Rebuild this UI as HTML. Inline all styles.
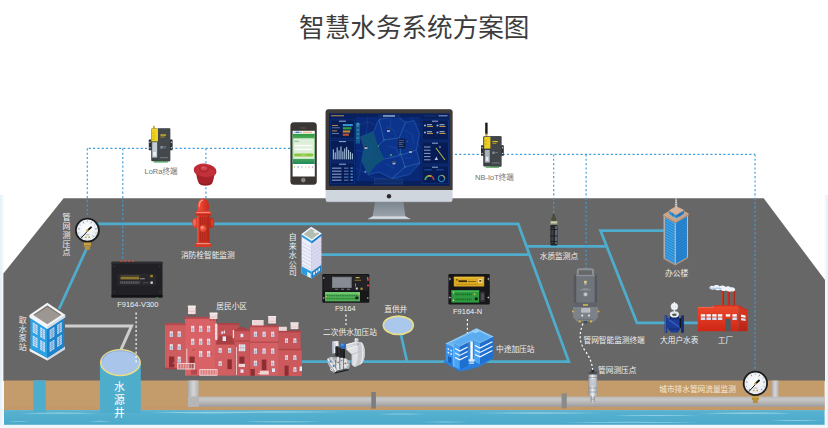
<!DOCTYPE html>
<html lang="zh"><head><meta charset="utf-8"><title>智慧水务系统方案图</title>
<style>html,body{margin:0;padding:0;background:#fff;font-family:"Liberation Sans",sans-serif}svg{display:block}</style></head>
<body>
<svg role="img" width="828" height="428" viewBox="0 0 828 428">
<defs>
<linearGradient id="gpipe" x1="0" y1="0" x2="0" y2="1"><stop offset="0" stop-color="#b9b9b9"/><stop offset=".3" stop-color="#c7c7c7"/><stop offset="1" stop-color="#9c9c9c"/></linearGradient>
<linearGradient id="gpipev" x1="0" y1="0" x2="1" y2="0"><stop offset="0" stop-color="#a9a9a9"/><stop offset=".5" stop-color="#d6d6d6"/><stop offset="1" stop-color="#b3b3b3"/></linearGradient>
<linearGradient id="gred" x1="0" y1="0" x2="0" y2="1"><stop offset="0" stop-color="#ee4a2c"/><stop offset="1" stop-color="#cf2616"/></linearGradient>
<linearGradient id="gredd" x1="0" y1="0" x2="0" y2="1"><stop offset="0" stop-color="#de3c25"/><stop offset="1" stop-color="#b92215"/></linearGradient>
<linearGradient id="ghyd" x1="0" y1="0" x2="1" y2="0"><stop offset="0" stop-color="#f0553f"/><stop offset=".5" stop-color="#e23a28"/><stop offset="1" stop-color="#c42a1c"/></linearGradient>
<linearGradient id="gsil" x1="0" y1="0" x2="1" y2="0"><stop offset="0" stop-color="#8a8f96"/><stop offset=".45" stop-color="#eef0f2"/><stop offset="1" stop-color="#9a9fa6"/></linearGradient>
<linearGradient id="gstand" x1="0" y1="0" x2="0" y2="1"><stop offset="0" stop-color="#7b858e"/><stop offset="1" stop-color="#9aa3ab"/></linearGradient>
<linearGradient id="gphone" x1="0" y1="0" x2="0" y2="1"><stop offset="0" stop-color="#2f9a40"/><stop offset=".3" stop-color="#6fbf6c"/><stop offset=".8" stop-color="#4aa85a"/><stop offset="1" stop-color="#1f8a5c"/></linearGradient>
<radialGradient id="gface" cx=".45" cy=".4" r=".6"><stop offset="0" stop-color="#ffffff"/><stop offset="1" stop-color="#e4eaf2"/></radialGradient>
<linearGradient id="gwater" x1="0" y1="0" x2="0" y2="1"><stop offset="0" stop-color="#58b2d0"/><stop offset="1" stop-color="#4aa9ca"/></linearGradient>
<linearGradient id="gstripl" x1="0" y1="0" x2="1" y2="0"><stop offset="0" stop-color="#e4eff8"/><stop offset="1" stop-color="#fdfeff"/></linearGradient>
<linearGradient id="gstripr" x1="0" y1="0" x2="1" y2="0"><stop offset="0" stop-color="#fdfeff"/><stop offset="1" stop-color="#e4eff8"/></linearGradient>
</defs>
<rect width="828" height="428" fill="#ffffff"/>
<rect x="0" y="195" width="4.5" height="233" fill="url(#gstripl)"/>
<rect x="824" y="195" width="4" height="233" fill="url(#gstripr)"/>
<rect x="0" y="424.4" width="828" height="3.6" fill="#eff6fb"/>
<polygon points="63.6,198.2 763.7,198.2 825,280 825,381 3.4,381 3.4,273.6" fill="#676767"/>
<rect x="4" y="380.5" width="820.6" height="29.8" fill="#c49b6b"/>
<rect x="4" y="406.8" width="820.6" height="3.4" fill="#c5986a"/>
<rect x="4" y="410.1" width="820.6" height="14.7" fill="url(#gwater)"/>
<path d="M20 413.2Q59 412 98 413.2Q59 414.4 20 413.2ZM150 412.6Q206 411 262 412.6Q206 414.20000000000005 150 412.6ZM200 412Q272.5 410.7 345 412Q272.5 413.3 200 412ZM378 414Q401.5 413 425 414Q401.5 415 378 414ZM470 413Q536 411.6 602 413Q536 414.4 470 413ZM612 415.6Q656 414.6 700 415.6Q656 416.6 612 415.6ZM700 413.2Q746 411.8 792 413.2Q746 414.59999999999997 700 413.2ZM8 421.4Q19 420.5 30 421.4Q19 422.29999999999995 8 421.4ZM88 421.2Q100 420.3 112 421.2Q100 422.09999999999997 88 421.2ZM245 421.8Q283.5 420.7 322 421.8Q283.5 422.90000000000003 245 421.8ZM420 422Q445 421.1 470 422Q445 422.9 420 422ZM560 422.2Q630 421.09999999999997 700 422.2Q630 423.3 560 422.2ZM770 420.6Q796 419.6 822 420.6Q796 421.6 770 420.6Z" fill="#a9dceb" opacity=".7"/>
<rect x="33.2" y="380.3" width="12.6" height="32" fill="#4fadcc"/>
<rect x="99.9" y="362.6" width="40.9" height="50.4" fill="#4fadcc"/>
<rect x="188" y="380.5" width="10.6" height="26.3" fill="url(#gpipev)"/>
<rect x="192" y="396.6" width="632.6" height="10.2" fill="url(#gpipe)"/>
<path d="M188 396.6V406.8H199V396.6Z" fill="#b6b6b6"/>
<rect x="771.5" y="380.6" width="7" height="16.4" fill="url(#gpipev)"/>
<rect x="371.3" y="392" width="4.6" height="16.6" fill="#7d7d7d"/>
<rect x="561.6" y="393.4" width="5.2" height="15" fill="#8a8a8a"/>
<polyline points="65,326 131.5,326 121,349.5" fill="none" stroke="#cdcdcd" stroke-width="3" stroke-linejoin="miter"/>
<g fill="none" stroke="#4eadcd" stroke-width="2.75" stroke-linejoin="miter">
<polyline points="98,223.85 518.2,223.85 568.8,361.5 301,361.5"/>
<path d="M87.3 247L59 309"/>
<path d="M320 254.6H530"/>
<path d="M527.5 246.3H606.8"/>
<polyline points="666,230.6 600.5,230.6 637,322.9 700,322.9"/>
<path d="M400.8 334L407 361.5"/>
</g>
<ellipse cx="120.4" cy="362.6" rx="19.7" ry="12.8" fill="#a9c5ea" stroke="#ebdd86" stroke-width="1.5"/><path d="M102.4 360.6C104.5 347.5 136.5 347.5 138.4 360.6" fill="none" stroke="#8fadde" stroke-width="1.1"/>
<ellipse cx="398.3" cy="325.3" rx="15" ry="9.2" fill="#aac8ec" stroke="#ebdd86" stroke-width="1.6"/>
<g fill="none" stroke="#3f9ddb" stroke-width="1.15" stroke-dasharray="2.1 2.23">
<path d="M290 148.3H87.3"/>
<path d="M87.3 148.3V219"/>
<path d="M122.8 148.3V260"/>
<path d="M205.9 148.3V199"/>
<path d="M450.62 154.4H755"/>
<path d="M553.7 154.4V215"/>
<path d="M586.1 154.4V269"/>
<path d="M755.05 154.4V372"/>
</g>
<g fill="none" stroke="#ffffff" stroke-width="1.2" stroke-dasharray="2.1 2.23">
<path d="M136.1 312.6V362.5"/>
<path d="M346 314.6V325"/>
<path d="M467.4 319V336"/>
<path d="M583 323.5C578 336 580 344 586 352C590 358 592.5 364 592.8 372"/>
</g>
<polygon points="29.6,348.2 47.3,358 65,346.4 65,349.2 47.3,360.6 29.6,351.2" fill="#eef1f5"/><polygon points="47.3,358 65,346.4 65,349.2 47.3,360.6" fill="#cfd5dd"/><polygon points="30.4,315.4 47.3,326.6 47.3,358 30.4,348.8" fill="#2aa3e6"/><polygon points="47.3,326.6 64.2,315.2 64.2,347 47.3,358" fill="#1b82cc"/><polygon points="32.77,322.27 37.5,325.31 37.5,335.08 32.77,332.2" fill="#d6e6f8"/><path d="M32.77 324.25L37.5 327.27" stroke="#4f9ad6" stroke-width=".5"/><path d="M32.77 326.24L37.5 329.22" stroke="#4f9ad6" stroke-width=".5"/><path d="M32.77 328.23L37.5 331.17" stroke="#4f9ad6" stroke-width=".5"/><path d="M32.77 330.22L37.5 333.13" stroke="#4f9ad6" stroke-width=".5"/><path d="M35.13 323.79L35.13 333.64" stroke="#4f9ad6" stroke-width=".5"/><polygon points="32.77,335.52 37.5,338.34 37.5,348.11 32.77,345.45" fill="#d6e6f8"/><path d="M32.77 337.5L37.5 340.29" stroke="#4f9ad6" stroke-width=".5"/><path d="M32.77 339.49L37.5 342.24" stroke="#4f9ad6" stroke-width=".5"/><path d="M32.77 341.48L37.5 344.2" stroke="#4f9ad6" stroke-width=".5"/><path d="M32.77 343.46L37.5 346.15" stroke="#4f9ad6" stroke-width=".5"/><path d="M35.13 336.93L35.13 346.78" stroke="#4f9ad6" stroke-width=".5"/><polygon points="40.2,327.05 44.93,330.1 44.93,339.6 40.2,336.73" fill="#d6e6f8"/><path d="M40.2 328.99L44.93 332" stroke="#4f9ad6" stroke-width=".5"/><path d="M40.2 330.92L44.93 333.9" stroke="#4f9ad6" stroke-width=".5"/><path d="M40.2 332.86L44.93 335.8" stroke="#4f9ad6" stroke-width=".5"/><path d="M40.2 334.79L44.93 337.7" stroke="#4f9ad6" stroke-width=".5"/><path d="M42.57 328.58L42.57 338.17" stroke="#4f9ad6" stroke-width=".5"/><polygon points="40.2,339.95 44.93,342.77 44.93,352.28 40.2,349.62" fill="#d6e6f8"/><path d="M40.2 341.88L44.93 344.67" stroke="#4f9ad6" stroke-width=".5"/><path d="M40.2 343.82L44.93 346.57" stroke="#4f9ad6" stroke-width=".5"/><path d="M40.2 345.75L44.93 348.48" stroke="#4f9ad6" stroke-width=".5"/><path d="M40.2 347.69L44.93 350.38" stroke="#4f9ad6" stroke-width=".5"/><path d="M42.57 341.36L42.57 350.95" stroke="#4f9ad6" stroke-width=".5"/><polygon points="49.67,330.04 54.4,326.86 54.4,336.33 49.67,339.47" fill="#c3d8f0"/><path d="M49.67 331.92L54.4 328.76" stroke="#3b86c6" stroke-width=".5"/><path d="M49.67 333.81L54.4 330.65" stroke="#3b86c6" stroke-width=".5"/><path d="M49.67 335.7L54.4 332.55" stroke="#3b86c6" stroke-width=".5"/><path d="M49.67 337.59L54.4 334.44" stroke="#3b86c6" stroke-width=".5"/><path d="M52.03 328.45L52.03 337.9" stroke="#3b86c6" stroke-width=".5"/><polygon points="49.67,342.62 54.4,339.49 54.4,348.96 49.67,352.06" fill="#c3d8f0"/><path d="M49.67 344.51L54.4 341.38" stroke="#3b86c6" stroke-width=".5"/><path d="M49.67 346.39L54.4 343.28" stroke="#3b86c6" stroke-width=".5"/><path d="M49.67 348.28L54.4 345.17" stroke="#3b86c6" stroke-width=".5"/><path d="M49.67 350.17L54.4 347.07" stroke="#3b86c6" stroke-width=".5"/><path d="M52.03 341.05L52.03 350.51" stroke="#3b86c6" stroke-width=".5"/><polygon points="57.1,325.05 61.83,321.88 61.83,331.4 57.1,334.54" fill="#c3d8f0"/><path d="M57.1 326.95L61.83 323.78" stroke="#3b86c6" stroke-width=".5"/><path d="M57.1 328.84L61.83 325.68" stroke="#3b86c6" stroke-width=".5"/><path d="M57.1 330.74L61.83 327.59" stroke="#3b86c6" stroke-width=".5"/><path d="M57.1 332.64L61.83 329.49" stroke="#3b86c6" stroke-width=".5"/><path d="M59.47 323.46L59.47 332.97" stroke="#3b86c6" stroke-width=".5"/><polygon points="57.1,337.7 61.83,334.57 61.83,344.1 57.1,347.19" fill="#c3d8f0"/><path d="M57.1 339.6L61.83 336.48" stroke="#3b86c6" stroke-width=".5"/><path d="M57.1 341.5L61.83 338.38" stroke="#3b86c6" stroke-width=".5"/><path d="M57.1 343.4L61.83 340.29" stroke="#3b86c6" stroke-width=".5"/><path d="M57.1 345.29L61.83 342.19" stroke="#3b86c6" stroke-width=".5"/><path d="M59.47 336.14L59.47 345.64" stroke="#3b86c6" stroke-width=".5"/><polygon points="29.4,315 47.3,302.8 65.2,314.8 65.2,317.2 47.3,329 29.4,317.4" fill="#f3f5f8"/><polygon points="47.3,326.6 65.2,314.8 65.2,317.2 47.3,329" fill="#d5dbe2"/><polygon points="33.2,315 47.3,305.4 61.4,314.9 47.3,324.2" fill="#9c9792"/><polygon points="33.2,315 47.3,305.4 61.4,314.9 59.8,314.9 47.3,306.9 35,315" fill="#7d7873"/>
<polygon points="301.6,234.4 311.8,241 311.8,278.6 301.6,273.2" fill="#eeeefb"/><polygon points="311.8,241 321.4,233.6 321.4,271.6 311.8,278.6" fill="#d9daf0"/><path d="M301.6 241.97L311.8 248.33L321.4 241.01" fill="none" stroke="#c2c4e2" stroke-width=".6"/><path d="M301.6 245.65L311.8 251.9L321.4 244.62" fill="none" stroke="#c2c4e2" stroke-width=".6"/><path d="M301.6 249.34L311.8 255.48L321.4 248.23" fill="none" stroke="#c2c4e2" stroke-width=".6"/><path d="M301.6 253.02L311.8 259.05L321.4 251.84" fill="none" stroke="#c2c4e2" stroke-width=".6"/><path d="M301.6 256.71L311.8 262.62L321.4 255.45" fill="none" stroke="#c2c4e2" stroke-width=".6"/><path d="M301.6 260.4L311.8 266.19L321.4 259.06" fill="none" stroke="#c2c4e2" stroke-width=".6"/><path d="M301.6 264.08L311.8 269.76L321.4 262.67" fill="none" stroke="#c2c4e2" stroke-width=".6"/><polygon points="301.6,266.22 311.8,271.83 311.8,278.6 301.6,273.2" fill="#2a9be0"/><polygon points="311.8,271.83 321.4,264.76 321.4,271.6 311.8,278.6" fill="#1a7cc6"/><polygon points="307.21,271.71 310.78,273.65 310.78,278.06 307.21,276.17" fill="#e6f0fa"/><polygon points="313.24,272.8 314.97,271.54 314.97,274.25 313.24,275.52" fill="#e6f0fa"/><polygon points="315.83,270.9 317.56,269.63 317.56,272.36 315.83,273.62" fill="#e6f0fa"/><polygon points="318.33,269.07 320.06,267.8 320.06,270.53 318.33,271.79" fill="#e6f0fa"/><polygon points="301.2,234.2 311.2,226.8 321.8,233.4 321.8,235.6 311.8,243.2 301.2,236.6" fill="#2a9be0"/><polygon points="311.8,241 321.8,233.4 321.8,235.6 311.8,243.2" fill="#1a7cc6"/><polygon points="301.2,234.2 311.2,226.8 321.8,233.4 311.8,241" fill="#f4f6f8"/><polygon points="303.6,234.2 311.2,228.6 319.4,233.5 311.8,239.2" fill="#b4beb0"/><polygon points="315,230.6 317.6,232.2 315.8,233.6 313.2,232" fill="#e8ecf0"/>
<rect x="278.2" y="331" width="22.4" height="45" fill="#c65458"/><rect x="278.2" y="349.6" width="23.6" height="26.4" fill="#cc595c"/><rect x="277.8" y="330.6" width="23.2" height="1.8" fill="#ae4448"/><rect x="278.2" y="348.8" width="24" height="1.5" fill="#ae4448"/><rect x="285.2" y="338.4" width="2.8" height="4.6" fill="#eef3fa"/><rect x="285.2" y="340.7" width="2.8" height="2.3" fill="#bcd2ef"/><path d="M286.6 338.4v4.6M285.2 340.5h2.8" stroke="#b56a72" stroke-width=".35"/><rect x="293.5" y="338.4" width="2.8" height="4.6" fill="#eef3fa"/><rect x="293.5" y="340.7" width="2.8" height="2.3" fill="#bcd2ef"/><path d="M294.9 338.4v4.6M293.5 340.5h2.8" stroke="#b56a72" stroke-width=".35"/><rect x="285.2" y="355.3" width="2.8" height="4.6" fill="#eef3fa"/><rect x="285.2" y="357.6" width="2.8" height="2.3" fill="#bcd2ef"/><path d="M286.6 355.3v4.6M285.2 357.4h2.8" stroke="#b56a72" stroke-width=".35"/><rect x="293.5" y="355.3" width="2.8" height="4.6" fill="#eef3fa"/><rect x="293.5" y="357.6" width="2.8" height="2.3" fill="#bcd2ef"/><path d="M294.9 355.3v4.6M293.5 357.4h2.8" stroke="#b56a72" stroke-width=".35"/><rect x="293.5" y="367.2" width="2.8" height="4.6" fill="#eef3fa"/><rect x="293.5" y="369.5" width="2.8" height="2.3" fill="#bcd2ef"/><path d="M294.9 367.2v4.6M293.5 369.3h2.8" stroke="#b56a72" stroke-width=".35"/><rect x="284.6" y="365.6" width="4" height="10.2" fill="#8c2f33"/><rect x="278.6" y="326.8" width="8.2" height="4" fill="#f1dede"/><path d="M280.6 326.8v4M282.6 326.8v4M284.6 326.8v4" stroke="#d9b7b7" stroke-width=".4"/><rect x="290.6" y="323.4" width="7.8" height="5.8" fill="#f1dede"/><rect x="290.3" y="322.2" width="8.4" height="1.6" rx=".6" fill="#f7ecec"/><rect x="290.6" y="326.7" width="7.8" height=".6" fill="#d9b7b7"/><path d="M291.4 329.2v2M297.6 329.2v2M294.5 329.2v2" stroke="#8a3a3a" stroke-width=".7"/><rect x="299.6" y="366.5" width="2.4" height="4.6" fill="#dfe9f7"/><rect x="249.8" y="325.6" width="28.6" height="50.2" fill="#d26064"/><rect x="249.4" y="325.2" width="29.4" height="2" fill="#b4494d"/><rect x="249.8" y="341.6" width="28.6" height="1.2" fill="#b4494d"/><rect x="253.9" y="331.7" width="3" height="5" fill="#eef3fa"/><rect x="253.9" y="334.2" width="3" height="2.5" fill="#bcd2ef"/><path d="M255.4 331.7v5M253.9 334h3" stroke="#b56a72" stroke-width=".35"/><rect x="262.6" y="331.7" width="3" height="5" fill="#eef3fa"/><rect x="262.6" y="334.2" width="3" height="2.5" fill="#bcd2ef"/><path d="M264.1 331.7v5M262.6 334h3" stroke="#b56a72" stroke-width=".35"/><rect x="271.2" y="331.7" width="3" height="5" fill="#eef3fa"/><rect x="271.2" y="334.2" width="3" height="2.5" fill="#bcd2ef"/><path d="M272.7 331.7v5M271.2 334h3" stroke="#b56a72" stroke-width=".35"/><rect x="253.9" y="348.5" width="3" height="5" fill="#eef3fa"/><rect x="253.9" y="351" width="3" height="2.5" fill="#bcd2ef"/><path d="M255.4 348.5v5M253.9 350.8h3" stroke="#b56a72" stroke-width=".35"/><rect x="262.6" y="348.5" width="3" height="5" fill="#eef3fa"/><rect x="262.6" y="351" width="3" height="2.5" fill="#bcd2ef"/><path d="M264.1 348.5v5M262.6 350.8h3" stroke="#b56a72" stroke-width=".35"/><rect x="271.2" y="348.5" width="3" height="5" fill="#eef3fa"/><rect x="271.2" y="351" width="3" height="2.5" fill="#bcd2ef"/><path d="M272.7 348.5v5M271.2 350.8h3" stroke="#b56a72" stroke-width=".35"/><rect x="253.9" y="360.7" width="3" height="5" fill="#eef3fa"/><rect x="253.9" y="363.2" width="3" height="2.5" fill="#bcd2ef"/><path d="M255.4 360.7v5M253.9 363h3" stroke="#b56a72" stroke-width=".35"/><rect x="271.2" y="360.7" width="3" height="5" fill="#eef3fa"/><rect x="271.2" y="363.2" width="3" height="2.5" fill="#bcd2ef"/><path d="M272.7 360.7v5M271.2 363h3" stroke="#b56a72" stroke-width=".35"/><rect x="261.8" y="359.6" width="4.6" height="10.4" fill="#8c2f33"/><rect x="252" y="320" width="11.6" height="5.4" fill="#f1dede"/><path d="M254 320v5.4M256 320v5.4M258 320v5.4M260 320v5.4M262 320v5.4" stroke="#d9b7b7" stroke-width=".4"/><rect x="268.2" y="317.2" width="7.8" height="6.4" fill="#f1dede"/><rect x="267.9" y="316" width="8.4" height="1.6" rx=".6" fill="#f7ecec"/><rect x="268.2" y="320.8" width="7.8" height=".6" fill="#d9b7b7"/><path d="M269 323.6v2M275.2 323.6v2M272.1 323.6v2" stroke="#8a3a3a" stroke-width=".7"/><rect x="250.4" y="369" width="4.4" height="6.8" fill="#8c2f33"/><rect x="259.8" y="370.8" width="9" height="3.8" fill="#eed3d3"/><path d="M258 373.5h4" stroke="#f3dada" stroke-width=".7"/><rect x="272" y="368.4" width="3" height="3.6" fill="#dfe9f7"/><rect x="215.8" y="323.4" width="22.8" height="24" fill="#c14e52"/><rect x="215.4" y="323" width="23.6" height="1.8" fill="#a94347"/><rect x="221.4" y="331.4" width="2.4" height="3" fill="#dbe6f5"/><rect x="234.5" y="329.8" width="15" height="46" fill="#c9575b"/><polygon points="235.5,329.8 241.9,326.6 248.3,329.8" fill="#a83f43"/><rect x="234" y="329.4" width="16" height="1.8" fill="#ae4448"/><rect x="234.5" y="340.4" width="15" height="1.2" fill="#ae4448"/><rect x="240.5" y="333.8" width="2.8" height="3.4" fill="#dfe9f7"/><rect x="238.8" y="344.4" width="6.4" height="6.8" fill="#e4ecf8"/><path d="M240.9 344.4v6.8M243.1 344.4v6.8M238.8 347.8h6.4" stroke="#b56a72" stroke-width=".4"/><rect x="239.4" y="356.6" width="5" height="8.6" fill="#8c2f33"/><rect x="238.6" y="363.8" width="6.4" height="3.2" fill="#eed3d3"/><rect x="236" y="347" width=".8" height="28" fill="#f1dede"/><rect x="240.5" y="369.4" width="3" height="3.4" fill="#dfe9f7"/><rect x="215.8" y="343.6" width="19" height="32" fill="#d15f62"/><polygon points="215.6,344.6 219.4,335.6 231,335.6 235,344.6" fill="#a83f43"/><polygon points="221.6,335.8 224.4,330.2 227.2,335.8" fill="#b8484c"/><polygon points="223.4,333.4 224.4,329.4 225.4,333.4" fill="#f1dede"/><rect x="222.6" y="336.4" width="3.4" height="4.6" fill="#dfe9f7"/><rect x="232.8" y="330" width="1.3" height="8" fill="#f1dede"/><rect x="218.7" y="348.1" width="3" height="4.6" fill="#eef3fa"/><rect x="218.7" y="350.4" width="3" height="2.3" fill="#bcd2ef"/><path d="M220.2 348.1v4.6M218.7 350.2h3" stroke="#b56a72" stroke-width=".35"/><rect x="228.1" y="348.1" width="3" height="4.6" fill="#eef3fa"/><rect x="228.1" y="350.4" width="3" height="2.3" fill="#bcd2ef"/><path d="M229.6 348.1v4.6M228.1 350.2h3" stroke="#b56a72" stroke-width=".35"/><rect x="218.7" y="361.3" width="3" height="4.6" fill="#eef3fa"/><rect x="218.7" y="363.6" width="3" height="2.3" fill="#bcd2ef"/><path d="M220.2 361.3v4.6M218.7 363.4h3" stroke="#b56a72" stroke-width=".35"/><rect x="227.4" y="359.4" width="4.4" height="9.8" fill="#8c2f33"/><rect x="185" y="317.2" width="30.8" height="58.4" fill="#d96266"/><rect x="184.4" y="316.8" width="32" height="2" fill="#b4494d"/><rect x="191.2" y="325.8" width="3" height="6" fill="#eef3fa"/><rect x="191.2" y="328.8" width="3" height="3" fill="#bcd2ef"/><path d="M192.7 325.8v6M191.2 328.6h3" stroke="#b56a72" stroke-width=".35"/><rect x="199.2" y="325.8" width="3" height="6" fill="#eef3fa"/><rect x="199.2" y="328.8" width="3" height="3" fill="#bcd2ef"/><path d="M200.7 325.8v6M199.2 328.6h3" stroke="#b56a72" stroke-width=".35"/><rect x="207.1" y="325.8" width="3" height="6" fill="#eef3fa"/><rect x="207.1" y="328.8" width="3" height="3" fill="#bcd2ef"/><path d="M208.6 325.8v6M207.1 328.6h3" stroke="#b56a72" stroke-width=".35"/><rect x="191.2" y="338.7" width="3" height="6" fill="#eef3fa"/><rect x="191.2" y="341.7" width="3" height="3" fill="#bcd2ef"/><path d="M192.7 338.7v6M191.2 341.5h3" stroke="#b56a72" stroke-width=".35"/><rect x="199.2" y="338.7" width="3" height="6" fill="#eef3fa"/><rect x="199.2" y="341.7" width="3" height="3" fill="#bcd2ef"/><path d="M200.7 338.7v6M199.2 341.5h3" stroke="#b56a72" stroke-width=".35"/><rect x="207.1" y="338.7" width="3" height="6" fill="#eef3fa"/><rect x="207.1" y="341.7" width="3" height="3" fill="#bcd2ef"/><path d="M208.6 338.7v6M207.1 341.5h3" stroke="#b56a72" stroke-width=".35"/><rect x="199.2" y="351" width="3" height="6" fill="#eef3fa"/><rect x="199.2" y="354" width="3" height="3" fill="#bcd2ef"/><path d="M200.7 351v6M199.2 353.8h3" stroke="#b56a72" stroke-width=".35"/><rect x="207.1" y="351" width="3" height="6" fill="#eef3fa"/><rect x="207.1" y="354" width="3" height="3" fill="#bcd2ef"/><path d="M208.6 351v6M207.1 353.8h3" stroke="#b56a72" stroke-width=".35"/><rect x="189.4" y="356.6" width="5.2" height="12" fill="#8c2f33"/><path d="M192 349.8h3.4" stroke="#b4494d" stroke-width=".8"/><circle cx="211.8" cy="354" r=".6" fill="#8c2f33"/><rect x="188" y="306.8" width="7.6" height="7.4" fill="#f1dede"/><rect x="187.7" y="305.6" width="8.2" height="1.6" rx=".6" fill="#f7ecec"/><rect x="188" y="310.9" width="7.6" height=".6" fill="#d9b7b7"/><path d="M188.8 314.2v2M194.8 314.2v2M191.8 314.2v2" stroke="#8a3a3a" stroke-width=".7"/><rect x="209.8" y="313.6" width="7.6" height="5.4" fill="#f1dede"/><rect x="209.5" y="312.4" width="8.2" height="1.6" rx=".6" fill="#f7ecec"/><rect x="209.8" y="316.7" width="7.6" height=".6" fill="#d9b7b7"/><path d="M210.6 319v2M216.6 319v2M213.6 319v2" stroke="#8a3a3a" stroke-width=".7"/><rect x="215" y="323.6" width="2.4" height="16.6" rx="1.1" fill="#f1dede"/><path d="M215 327.5h2.4M215 331.5h2.4M215 335.5h2.4" stroke="#d9b7b7" stroke-width=".4"/><rect x="186.4" y="348.6" width=".9" height="15" fill="#f1dede"/><rect x="191" y="369.6" width="6" height="5" fill="#b4494d"/><rect x="165" y="323.6" width="20.4" height="45.2" fill="#cf5c5f"/><rect x="164.6" y="323.2" width="21" height="1.9" fill="#b4494d"/><rect x="169.8" y="331.3" width="3" height="5.6" fill="#eef3fa"/><rect x="169.8" y="334.1" width="3" height="2.8" fill="#bcd2ef"/><path d="M171.3 331.3v5.6M169.8 333.9h3" stroke="#b56a72" stroke-width=".35"/><rect x="177.7" y="331.3" width="3" height="5.6" fill="#eef3fa"/><rect x="177.7" y="334.1" width="3" height="2.8" fill="#bcd2ef"/><path d="M179.2 331.3v5.6M177.7 333.9h3" stroke="#b56a72" stroke-width=".35"/><rect x="169.8" y="344.2" width="3" height="5.6" fill="#eef3fa"/><rect x="169.8" y="347" width="3" height="2.8" fill="#bcd2ef"/><path d="M171.3 344.2v5.6M169.8 346.8h3" stroke="#b56a72" stroke-width=".35"/><rect x="177.7" y="344.2" width="3" height="5.6" fill="#eef3fa"/><rect x="177.7" y="347" width="3" height="2.8" fill="#bcd2ef"/><path d="M179.2 344.2v5.6M177.7 346.8h3" stroke="#b56a72" stroke-width=".35"/><rect x="177.7" y="356.7" width="3" height="5.6" fill="#eef3fa"/><rect x="177.7" y="359.5" width="3" height="2.8" fill="#bcd2ef"/><path d="M179.2 356.7v5.6M177.7 359.3h3" stroke="#b56a72" stroke-width=".35"/><rect x="169" y="356.5" width="5.3" height="11" fill="#8c2f33"/><circle cx="173.4" cy="363" r=".5" fill="#e8b0a0"/><rect x="165" y="367.8" width="20.4" height="1.4" fill="#a83f43"/><rect x="177.6" y="363.4" width="17" height="5.6" fill="none" stroke="#f3dada" stroke-width=".9"/><path d="M178.8 363.4v5.6M180.4 363.4v5.6M182 363.4v5.6M183.6 363.4v5.6M185.2 363.4v5.6M186.8 363.4v5.6M188.4 363.4v5.6M190 363.4v5.6M191.6 363.4v5.6M193.2 363.4v5.6" stroke="#f3dada" stroke-width=".6"/><rect x="199.8" y="369.6" width="17.2" height="5.6" fill="none" stroke="#f3dada" stroke-width=".9"/><path d="M201 369.6v5.6M202.6 369.6v5.6M204.2 369.6v5.6M205.8 369.6v5.6M207.4 369.6v5.6M209 369.6v5.6M210.6 369.6v5.6M212.2 369.6v5.6M213.8 369.6v5.6M215.4 369.6v5.6" stroke="#f3dada" stroke-width=".6"/><rect x="188" y="368.8" width="27.8" height="7" fill="#b4494d" opacity=".0"/>
<path d="M346.2 344.3L356 341.7L361.5 342.6C364.2 344.6 365 349.5 364.8 354.5C364.5 359 363.3 362.6 360.6 364.2L354.8 366.9L351.8 364.9V354.6L346.2 349.4Z" fill="#dfe1e4"/><path d="M356 341.7L361.5 342.6C364.2 344.6 365 349.5 364.8 354.5C364.5 359 363.3 362.6 360.6 364.2L354.8 366.9C358.5 362 359.5 350 356 341.7Z" fill="#c5c8cd"/><path d="M346.2 344.3L356 341.7L357.8 346.6L347.8 349.6Z" fill="#eef0f2"/><path d="M347 346L357 343.3M347.5 347.6L357.4 345" stroke="#9aa0a7" stroke-width=".5" fill="none"/><path d="M351.8 354.6L358.6 351.8M351.8 364.9L351.8 354.6" stroke="#a9aeb5" stroke-width=".6" fill="none"/><path d="M360.6 364.2C363 360 363.6 350 361.5 342.6" stroke="#f4f5f6" stroke-width="1" fill="none"/><rect x="354.6" y="338.2" width="3.8" height="7" rx=".9" fill="#d2d5d9"/><rect x="354" y="340.4" width="5" height="1.1" fill="#9aa0a7"/><rect x="354.2" y="343.6" width="4.6" height="1" fill="#9aa0a7"/><rect x="355.3" y="338.2" width="1" height="7" fill="#f2f3f4"/><polygon points="332.4,341.6 338.4,341 338.8,352.6 332.6,353.4" fill="#eceef1"/><polygon points="332.4,341.6 333.8,341.5 334,353.2 332.6,353.4" fill="#a9bbd8"/><polygon points="334.4,343 336,342.9 336.1,349 334.5,349.2" fill="#c9d2e2"/><rect x="335.4" y="346.2" width="3.4" height="10" rx=".9" fill="#1b1c1f"/><rect x="338.6" y="347.4" width="3.4" height="10.2" rx=".9" fill="#242529"/><rect x="341.6" y="348.8" width="3.4" height="9.8" rx=".9" fill="#1b1c1f"/><path d="M336.3 347v8M339.5 348.2v8M342.5 349.6v8" stroke="#3a3c42" stroke-width=".5"/><ellipse cx="342.7" cy="345.9" rx="2.6" ry="2.9" fill="#2d6dc4"/><ellipse cx="342.3" cy="344.8" rx="1.5" ry="1.2" fill="#5b95dc"/><path d="M327.3 358.2L331.5 356.8L336 357.6L345.2 358.4L349.6 360.4L349.8 366.6L348.6 369.6L334.6 373.4L331.6 371L327.6 363.2Z" fill="#aeb3b9"/><path d="M327.8 359L336.5 371.6" stroke="#e9ebed" stroke-width="1.6"/><path d="M330.6 357.6L339.5 370.2" stroke="#dfe2e5" stroke-width="1.2"/><path d="M332 364L347 361.5M333 367.5L348.5 364.6" stroke="#e3e5e8" stroke-width="1.1"/><rect x="337" y="357.2" width="2.2" height="12.4" fill="#e6e8ea"/><rect x="340.6" y="357.8" width="2.4" height="12.2" fill="#d3d6da"/><rect x="344.4" y="358.6" width="2.2" height="10" fill="#e6e8ea"/><path d="M339.7 358v11M343.5 358.6v10.5M335.6 360v8" stroke="#5e6369" stroke-width=".7"/><circle cx="330.4" cy="361.4" r="1" fill="#4a7fc0"/><circle cx="333.6" cy="366" r="1" fill="#4a7fc0"/><circle cx="338.1" cy="362.4" r=".8" fill="#8a5a3a"/><circle cx="345.4" cy="363.4" r=".8" fill="#8a5a3a"/><circle cx="341.8" cy="360.6" r=".7" fill="#4a7fc0"/><circle cx="331.6" cy="369.6" r="1.3" fill="#e9ebed"/><circle cx="331.6" cy="369.6" r=".6" fill="#8d9299"/><path d="M334.4 373.2L348.6 369.5" stroke="#1e1f22" stroke-width="1.3"/><path d="M336 371.5L346.5 368.8" stroke="#2c2e32" stroke-width=".8"/>
<polygon points="444.2,360.6 444.2,362.4 459.8,371.6 471.6,369 480,366.6 494,358 494,356.8 480,352 459.8,352" fill="#2a7edb"/><polygon points="445.8,344 476.7,328.9 493.2,336.9 480,343.5 473.9,340.7 468.2,342.7 459.8,346.8 453.1,343.5 453.1,347.4" fill="#6cb8f5"/><polygon points="451.5,343.2 476.6,330.9 489.6,337.1 480,341.9 474,339.1 466,342.3 459.8,345.2 455,342.9" fill="#5aabef"/><path d="M445.8 344L476.7 328.9L493.2 336.9" fill="none" stroke="#93cdf9" stroke-width="1.1"/><polygon points="471,331.2 475.8,328.8 480.2,331 475.4,333.4" fill="#93cdf9"/><polygon points="445.8,344 453.1,347.4 453.1,364.4 445.8,361" fill="#3a93ea"/><polygon points="447.6,348.1 449.1,348.8 449.1,350.3 447.6,349.6" fill="#eaf4fe"/><polygon points="450.4,349.5 451.9,350.2 451.9,351.7 450.4,351" fill="#eaf4fe"/><polygon points="447.6,351.5 449.1,352.2 449.1,353.7 447.6,353" fill="#eaf4fe"/><polygon points="450.4,352.9 451.9,353.6 451.9,355.1 450.4,354.4" fill="#eaf4fe"/><polygon points="448,356 451.7,357.8 451.7,363.7 448,362" fill="#1c63b8"/><polygon points="453.1,343.5 459.8,346.8 459.8,369.5 453.1,366.2" fill="#4ba4f3"/><polygon points="453.1,343.5 454.3,344.1 454.3,366.8 453.1,366.2" fill="#74bdf7"/><polygon points="459.8,346.8 468.2,342.7 468.2,365.4 459.8,369.5" fill="#1f6fd0"/><polygon points="468.2,342.7 473.9,340.2 473.9,361.5 471.6,367 468.2,365.4" fill="#2f86e0"/><polygon points="473.9,340.7 480,343.5 480,364.3 473.9,361.5" fill="#4ba4f3"/><polygon points="480,343.5 493.2,336.9 493.2,357.7 480,364.3" fill="#1f6fd0"/><path d="M455.1 348.6L459.8 351L467.6 347.1" fill="none" stroke="#f6fbff" stroke-width="1.15"/><path d="M455.1 353L459.8 355.4L467.6 351.5" fill="none" stroke="#f6fbff" stroke-width="1.15"/><path d="M455.1 357.4L459.8 359.8L467.6 355.9" fill="none" stroke="#f6fbff" stroke-width="1.15"/><path d="M475 345.6L480 348L492.4 341.8" fill="none" stroke="#f6fbff" stroke-width="1.15"/><path d="M475 350L480 352.4L492.4 346.2" fill="none" stroke="#f6fbff" stroke-width="1.15"/><path d="M475 354.4L480 356.8L492.4 350.6" fill="none" stroke="#f6fbff" stroke-width="1.15"/><rect x="470.4" y="341.4" width="2.4" height="19" fill="#ffffff"/><rect x="468.4" y="360.2" width="6.4" height="5.6" fill="#2a7fdc"/><ellipse cx="471.6" cy="360.2" rx="3.2" ry="1.5" fill="#dbeafb"/><ellipse cx="471.6" cy="365.8" rx="3.2" ry="1.5" fill="#2a7fdc"/><rect x="469.2" y="362.3" width="4.8" height="1.7" fill="#a9cdf3"/>
<path d="M676.1 196.8V207.5" stroke="#ececec" stroke-width=".8"/><path d="M675.3 200.4h1.6M675.1 202.4h2M674.9 204.4h2.4M674.8 206.2h2.6" stroke="#dcdcdc" stroke-width=".8"/><polygon points="663.7,214.2 675.3,220.6 675.3,264.8 663.7,258.4" fill="#3ba3ea"/><polygon points="675.3,220.6 688,213.2 688,257.4 675.3,264.8" fill="#2889d6"/><path d="M663.7 216.8L675.3 223.2L688 215.8" fill="none" stroke="#1a64a6" stroke-width=".5"/><path d="M663.7 219.4L675.3 225.8L688 218.4" fill="none" stroke="#1a64a6" stroke-width=".5"/><path d="M663.7 222L675.3 228.4L688 221" fill="none" stroke="#1a64a6" stroke-width=".5"/><path d="M663.7 224.6L675.3 231L688 223.6" fill="none" stroke="#1a64a6" stroke-width=".5"/><path d="M663.7 227.2L675.3 233.6L688 226.2" fill="none" stroke="#1a64a6" stroke-width=".5"/><path d="M663.7 229.8L675.3 236.2L688 228.8" fill="none" stroke="#1a64a6" stroke-width=".5"/><path d="M663.7 232.4L675.3 238.8L688 231.4" fill="none" stroke="#1a64a6" stroke-width=".5"/><path d="M663.7 235L675.3 241.4L688 234" fill="none" stroke="#1a64a6" stroke-width=".5"/><path d="M663.7 237.6L675.3 244L688 236.6" fill="none" stroke="#1a64a6" stroke-width=".5"/><path d="M663.7 240.2L675.3 246.6L688 239.2" fill="none" stroke="#1a64a6" stroke-width=".5"/><path d="M663.7 242.8L675.3 249.2L688 241.8" fill="none" stroke="#1a64a6" stroke-width=".5"/><path d="M663.7 245.4L675.3 251.8L688 244.4" fill="none" stroke="#1a64a6" stroke-width=".5"/><path d="M663.7 248L675.3 254.4L688 247" fill="none" stroke="#1a64a6" stroke-width=".5"/><path d="M663.7 250.6L675.3 257L688 249.6" fill="none" stroke="#1a64a6" stroke-width=".5"/><path d="M663.7 253.2L675.3 259.6L688 252.2" fill="none" stroke="#1a64a6" stroke-width=".5"/><path d="M663.7 255.8L675.3 262.2L688 254.8" fill="none" stroke="#1a64a6" stroke-width=".5"/><path d="M664.2 214.2V258.4M675.3 220.6V264.8M687.5 213.2V257.4" stroke="#d6b49c" stroke-width="1.1" fill="none"/><path d="M663.7 258.4L675.3 264.8L688 257.4" stroke="#b8937a" stroke-width="1.2" fill="none"/><polygon points="663.3,214.4 676,207.4 688.6,213.6 688.6,215.6 675.3,223.3 663.3,216.6" fill="#b8937a"/><polygon points="663.3,214.4 676,207.4 688.6,213.6 675.6,221.2" fill="#d6b49c"/><polygon points="665.8,214.4 676,208.8 686.2,213.7 675.7,219.8" fill="none" stroke="#9a7a64" stroke-width=".5"/><polygon points="669.2,210.6 676.1,214.6 676.1,218.6 669.2,214.6" fill="#3a9fe6"/><polygon points="676.1,214.6 683.9,210.1 683.9,214.1 676.1,218.6" fill="#2585d0"/><path d="M669.2 212.6L676.1 216.6L683.9 212.1M672.6 212.6v4M680 212.4v4" fill="none" stroke="#155a96" stroke-width=".45"/><polygon points="668.9,210.5 676.1,206.3 684.2,210 676.1,214.9" fill="#d6b49c"/><path d="M668.9 210.5L676.1 214.9L684.2 210" fill="none" stroke="#b8937a" stroke-width=".6"/>
<path d="M667 318.2H681.3V327.6L677.8 332.4H670.8L667 327.6Z" fill="#1c3c96"/><path d="M668.4 319.6L680.2 327.6" stroke="#3a60c4" stroke-width="1.2"/><path d="M669.5 329L679 329" stroke="#132b73" stroke-width="1"/><rect x="679.6" y="318.2" width="1.7" height="9.6" fill="#10131c"/><rect x="664.6" y="315.3" width="2.8" height="17.8" rx="1" fill="#1c3c96"/><rect x="681.1" y="315.3" width="2.8" height="17.8" rx="1" fill="#132b73"/><rect x="665" y="316" width=".9" height="16.4" rx=".4" fill="#3a60c4"/><rect x="669.8" y="314.6" width="9.2" height="4.8" fill="#132b73"/><ellipse cx="674.4" cy="314.4" rx="4.6" ry="3.1" fill="#e3e6ea"/><ellipse cx="674.4" cy="314.8" rx="3.3" ry="1.9" fill="#f7f8f9"/><ellipse cx="674.4" cy="314.8" rx="2.4" ry="1.2" fill="#4d5b55"/><circle cx="674.4" cy="306.4" r="3.5" fill="#f3f5f7" stroke="#cfd4d9" stroke-width=".5"/><path d="M673.4 305.6v2M675.4 305.6v2" stroke="#b5bcc4" stroke-width=".5"/><rect x="673.7" y="309.6" width="1.4" height="2.4" fill="#dfe3e7"/><rect x="673.8" y="302" width="1.2" height="1.2" fill="#f3f5f7"/>
<rect x="722.1" y="290.6" width="1.9" height="16" fill="#d8321c"/><rect x="723.3" y="290.6" width=".7" height="16" fill="#a81c10"/><rect x="727.5" y="290.6" width="1.9" height="16" fill="#d8321c"/><rect x="728.7" y="290.6" width=".7" height="16" fill="#a81c10"/><rect x="732.8" y="290.6" width="1.9" height="16" fill="#d8321c"/><rect x="734" y="290.6" width=".7" height="16" fill="#a81c10"/><path d="M709.6 288.2C709 286 712 285 713.6 286.2C715 284.6 718.5 284.8 719.6 286.4C721.5 285 724.5 285.4 725.4 287C727 285.6 730 286 730.8 287.6C732.5 286.6 735 287.6 735.2 289.6C735.3 291.2 733.5 291.8 731.8 291.2C730 292 727.5 291.6 726.6 290.6C724.5 291.4 722 291 721 289.8C718.5 290.6 716 290.2 715 289.2C713 290 710.2 289.8 709.6 288.2Z" fill="#eef4fa"/><path d="M710.5 288C714 288.8 718 287.5 721 288.5" stroke="#9fc4e4" stroke-width="1.1" fill="none" stroke-linecap="round"/><polygon points="738.4,305.2 747.6,310.2 747.6,331.2 738.4,331.2" fill="url(#gredd)"/><polygon points="697.8,307 713,307 713,305.2 738.4,305.2 738.4,331.2 697.8,331.2" fill="url(#gred)"/><path d="M697.8 307.4h15.2v-1.8h25.4" stroke="#f2705a" stroke-width=".8" fill="none"/><rect x="700.8" y="314.2" width="4.4" height="2.4" fill="#f4f8fc"/><rect x="700.8" y="317.4" width="4.4" height="2.6" fill="#d5e4f5"/><rect x="706.5" y="314.2" width="4.4" height="2.4" fill="#f4f8fc"/><rect x="706.5" y="317.4" width="4.4" height="2.6" fill="#d5e4f5"/><rect x="712.2" y="314.2" width="4.4" height="2.4" fill="#f4f8fc"/><rect x="712.2" y="317.4" width="4.4" height="2.6" fill="#d5e4f5"/><rect x="717.9" y="314.2" width="4.4" height="2.4" fill="#f4f8fc"/><rect x="717.9" y="317.4" width="4.4" height="2.6" fill="#d5e4f5"/><rect x="725.8" y="314.2" width="4.4" height="2.4" fill="#f4f8fc"/><rect x="732.4" y="314.2" width="4.4" height="2.4" fill="#f4f8fc"/><rect x="732.4" y="317.4" width="4.4" height="2.6" fill="#d5e4f5"/><polygon points="741,314.6 745.6,315.4 745.6,317.8 741,317" fill="#f4f8fc"/><polygon points="741,317.9 745.6,318.7 745.6,321.1 741,320.3" fill="#d5e4f5"/><polygon points="713,305.2 738.4,305.2 747.6,310.2 747.6,311 738.4,306.2 713,306.2" fill="#c02a18"/><rect x="725.4" y="319" width="5.2" height="12.2" fill="#4d5a60"/>
<rect x="83.9" y="242" width="7" height="4.6" fill="#c9a347"/><rect x="83.9" y="245" width="7" height="1" fill="#a98632"/><rect x="84.9" y="246.4" width="5" height="3.3" fill="#b8923a"/><circle cx="87.4" cy="230.2" r="12.4" fill="#1b1b1d"/><circle cx="87.4" cy="230.2" r="10.6" fill="url(#gface)"/><path d="M80.68 236.92L81.96 235.64M78.36 233.14L79.13 232.89M78.02 228.71L79.79 229M79.71 224.62L80.36 225.09M83.09 221.74L83.9 223.34M87.4 220.7L87.4 221.5M91.71 221.74L90.9 223.34M95.09 224.62L94.44 225.09M96.78 228.71L95.01 229M96.44 233.14L95.67 232.89M94.12 236.92L92.84 235.64" stroke="#444" stroke-width=".55" fill="none"/><path d="M84.9 237.3h1.7M88.3 237.3h1.7" stroke="#c9a347" stroke-width="1.5"/><path d="M85.6 234.8h3.8" stroke="#666" stroke-width=".5"/><path d="M81 238.2L91.1 227.2" stroke="#1a1a1a" stroke-width="1" stroke-linecap="round"/><path d="M88.2 229.8L91 227.3" stroke="#111" stroke-width="1.8" stroke-linecap="round"/><circle cx="87.4" cy="230.5" r="1.3" fill="#c9a347"/>
<rect x="751.9" y="395.4" width="7" height="4.6" fill="#c9a347"/><rect x="751.9" y="398.4" width="7" height="1" fill="#a98632"/><rect x="752.9" y="399.8" width="5" height="3.3" fill="#b8923a"/><circle cx="755.4" cy="383.4" r="12.6" fill="#1b1b1d"/><circle cx="755.4" cy="383.4" r="10.8" fill="url(#gface)"/><path d="M748.54 390.26L749.81 388.99M746.17 386.4L746.94 386.15M745.82 381.88L747.6 382.16M747.55 377.7L748.2 378.17M751 374.76L751.81 376.36M755.4 373.7L755.4 374.5M759.8 374.76L758.99 376.36M763.25 377.7L762.6 378.17M764.98 381.88L763.2 382.16M764.63 386.4L763.86 386.15M762.26 390.26L760.99 388.99" stroke="#444" stroke-width=".55" fill="none"/><path d="M752.9 390.5h1.7M756.3 390.5h1.7" stroke="#c9a347" stroke-width="1.5"/><path d="M753.6 388h3.8" stroke="#666" stroke-width=".5"/><path d="M749 391.4L759.1 380.4" stroke="#1a1a1a" stroke-width="1" stroke-linecap="round"/><path d="M756.2 383L759 380.5" stroke="#111" stroke-width="1.8" stroke-linecap="round"/><circle cx="755.4" cy="383.7" r="1.3" fill="#c9a347"/>
<path d="M194.8 247.1V244.6L196.6 242.6H209.8L211.6 244.6V247.1Z" fill="#d83a28"/><rect x="196.4" y="243.2" width="13.6" height=".9" fill="#f3a392"/><ellipse cx="195.6" cy="222.8" rx="3.3" ry="5.3" fill="#e2402d"/><ellipse cx="194.6" cy="222.4" rx="1.3" ry="3.6" fill="#f26a55"/><ellipse cx="211.2" cy="222.8" rx="3.1" ry="5.3" fill="#c22c1d"/><ellipse cx="212.3" cy="222.8" rx="1.2" ry="3.8" fill="#de3f2c"/><rect x="197.1" y="214.6" width="12.2" height="28.2" fill="#cf3322"/><rect x="197.1" y="214.6" width="1.5" height="28.2" fill="#ea5540"/><rect x="208" y="214.6" width="1.3" height="28.2" fill="#b3281a"/><path d="M200.3 217V241.6M202.6 217V241.6M204.9 217V241.6M207.1 217V241.6" stroke="#a52114" stroke-width=".9"/><path d="M195.4 215.2V212.4L197.2 210.6H209.4L211.2 212.4V215.2Z" fill="#e4412e"/><rect x="196.4" y="212.2" width="13.8" height=".8" fill="#f59a88"/><rect x="195.4" y="214.2" width="15.8" height="1.1" fill="#b3281a"/><path d="M198.4 210.7C196.8 207.5 197.2 198.6 203.3 198.6C209.4 198.6 209.8 207.5 208.3 210.7Z" fill="url(#ghyd)"/><path d="M199.5 206.5C199.3 203 200.6 200.6 202.6 200.2" stroke="#ff9a84" stroke-width="1.2" fill="none" stroke-linecap="round"/><circle cx="203" cy="228.4" r="3.9" fill="#e84f3a" stroke="#a52114" stroke-width=".6"/><circle cx="202.3" cy="227.5" r="1.6" fill="#ff8d76"/>
<path d="M196.2 172C196.2 176 197.5 181 199 183.6C201.5 186.6 209.5 186.6 212 183.6C213.5 181 214.4 176 214.4 172Z" fill="#a6222b"/><path d="M199.5 183C202 185 209 185 211.5 183" stroke="#8a1820" stroke-width=".9" fill="none"/><ellipse cx="205.1" cy="170.4" rx="11.4" ry="6.8" fill="#c4313b" transform="rotate(6 205.1 170.4)"/><ellipse cx="205.3" cy="171.6" rx="10.6" ry="5.6" fill="none" stroke="#ad2630" stroke-width=".9" transform="rotate(6 205.1 170.4)"/><ellipse cx="203.8" cy="169" rx="5" ry="3.4" fill="#b02832"/><ellipse cx="204" cy="168.3" rx="3.4" ry="2.2" fill="#cf434d"/><ellipse cx="203.2" cy="167.8" rx="1.4" ry=".8" fill="#e0646c"/><path d="M210 167.5L212.5 170M197.5 172l1.5 1.5" stroke="#a6222b" stroke-width=".8"/>
<rect x="148.8" y="139.6" width="3" height="10.6" rx=".6" fill="#2b2f33"/><rect x="169.6" y="139.6" width="3" height="10.6" rx=".6" fill="#2b2f33"/><circle cx="150" cy="142.2" r=".7" fill="#d0d4d8"/><circle cx="150" cy="147.8" r=".7" fill="#d0d4d8"/><circle cx="171.4" cy="142.2" r=".7" fill="#d0d4d8"/><circle cx="171.4" cy="147.8" r=".7" fill="#d0d4d8"/><rect x="153" y="125.8" width="1.8" height="3" fill="#c9a347"/><rect x="151.2" y="128.4" width="19" height="32.8" rx="1" fill="#3d4246"/><rect x="158.2" y="128.4" width="12" height="32.8" fill="#43484d"/><rect x="151.4" y="128.6" width="6.6" height="12.8" fill="#f1d21f"/><path d="M152.6 133H154.6M152.6 136H154.6M152.6 139H154.6" stroke="#a48a10" stroke-width=".5"/><rect x="152.2" y="142.2" width="5" height="15.4" fill="#c5cdd5"/><rect x="153" y="151.5" width="3.2" height="4.6" fill="#eef2f5" stroke="#9aa3ac" stroke-width=".3"/><rect x="160.4" y="134.4" width="5.6" height="1.3" fill="#e2c21e"/><rect x="160.4" y="136.6" width="4.4" height=".8" fill="#b99d18"/><rect x="160.4" y="146" width="2.4" height="2.6" fill="#8b9299"/><rect x="163.4" y="146.4" width="2.6" height=".6" fill="#8b9299"/><rect x="163.4" y="147.6" width="2.6" height=".6" fill="#8b9299"/><rect x="160" y="157.4" width="8" height=".7" fill="#8b9299"/><rect x="153.8" y="161.2" width="14" height="1.3" fill="#3f9a4b"/>
<rect x="481" y="145.2" width="3" height="10.6" rx=".6" fill="#2b2f33"/><rect x="500.8" y="145.2" width="3" height="10.6" rx=".6" fill="#2b2f33"/><circle cx="482.2" cy="147.8" r=".7" fill="#d0d4d8"/><circle cx="482.2" cy="153.4" r=".7" fill="#d0d4d8"/><circle cx="502.6" cy="147.8" r=".7" fill="#d0d4d8"/><circle cx="502.6" cy="153.4" r=".7" fill="#d0d4d8"/><rect x="485.2" y="122.4" width="2.4" height="12.4" rx="1.1" fill="#17181a"/><rect x="485.4" y="133.6" width="2" height="3" fill="#c9a347"/><rect x="483.2" y="136.2" width="18.2" height="30.4" rx="1" fill="#3a3f43"/><rect x="490.4" y="136.2" width="11" height="30.4" fill="#41464b"/><rect x="484.2" y="137" width="6.2" height="11.6" fill="#efcf1f"/><path d="M485.2 141H487.2M485.2 144H487.2" stroke="#a48a10" stroke-width=".5"/><rect x="484.8" y="150" width="5" height="12.6" fill="#a9b2ba"/><rect x="485.6" y="156.5" width="3.2" height="4.6" fill="#e4e9ee" stroke="#8a939c" stroke-width=".3"/><rect x="492.4" y="141" width="5.4" height="1.2" fill="#dcbc1e"/><rect x="492.4" y="143" width="4" height=".8" fill="#b99d18"/><rect x="492.4" y="151.6" width="2.2" height="2.4" fill="#8b9299"/><rect x="495.2" y="152" width="2.6" height=".6" fill="#8b9299"/><rect x="492" y="162.6" width="7.6" height=".7" fill="#8b9299"/><rect x="485.6" y="166.6" width="13.4" height="1.1" fill="#3f9a4b"/>
<rect x="290.4" y="122.2" width="26.4" height="62.6" rx="3.5" fill="#3a3634"/><rect x="292.6" y="130.8" width="22.2" height="45.7" fill="#ffffff"/><rect x="293.8" y="131.7" width="8" height="1.2" fill="#8fb4d8"/><rect x="296" y="131.7" width="3" height="1.2" fill="#4a78b8"/><rect x="302.6" y="131.7" width="9.4" height="1.2" fill="#f2b27a"/><rect x="292.6" y="133.8" width="22.2" height="30.2" fill="url(#gphone)"/><rect x="293.2" y="138.3" width="21" height="20.6" fill="#dcefd8"/><rect x="294.4" y="140.9" width="4.4" height=".9" fill="#9ab09a"/><rect x="294.4" y="144.8" width="18" height="1.5" fill="#ffffff"/><rect x="294.4" y="148.6" width="18" height="1.5" fill="#ffffff"/><rect x="294.1" y="153.5" width="19.2" height="3" rx=".9" fill="#8cc63f"/><rect x="301" y="154.7" width="5" height=".6" fill="#c5e39a"/><rect x="293.9" y="166" width="1.2" height="2.2" rx=".5" fill="#c3df8f"/><rect x="297.5" y="166" width="1.2" height="2.2" rx=".5" fill="#8fc0e8"/><rect x="301.2" y="166" width="1.2" height="2.2" rx=".5" fill="#edc1dd"/><rect x="305" y="166" width="1.2" height="2.2" rx=".5" fill="#f0e08a"/><rect x="308.4" y="166" width="1.2" height="2.2" rx=".5" fill="#f4c0b4"/><rect x="311.9" y="166" width="1.2" height="2.2" rx=".5" fill="#cbb7e6"/><rect x="300.3" y="127.5" width="5.3" height=".9" rx=".45" fill="#5c5856"/><circle cx="303.3" cy="180.1" r="1.9" fill="#8a8684" stroke="#a9a5a2" stroke-width=".5"/>
<polygon points="375,202 403.5,202 405.3,216.4 372.6,216.4" fill="url(#gstand)"/><polygon points="372.6,216.3 405.3,216.3 410.6,219.1 367.8,219.1" fill="#d5dbe2"/><polygon points="369.6,218.4 408.8,218.4 410.6,219.3 367.8,219.3" fill="#b4bcc5"/><rect x="325.6" y="109.2" width="127" height="92.9" rx="3" fill="#d0d6de"/><path d="M325.6 190V112.2A3 3 0 0 1 328.6 109.2H449.6A3 3 0 0 1 452.6 112.2V190Z" fill="#3e3a38"/><rect x="326.6" y="201.1" width="125" height="1" fill="#b9c0c9"/><circle cx="389" cy="196.2" r="2.2" fill="#2e2a2a"/><rect x="329" y="113.4" width="120.6" height="72.4" fill="#08205e"/><g opacity=".8"><rect x="356" y="117" width="64.6" height="64" fill="#0a2a7c"/><path d="M356 126L368 122L384 128L404 121L420 125M356 150L364 152M356 168L372 177L396 181M368 117L366 136L358 181M412 117L414 136L420 148M380 117L382 122M396 181L398 176M420 165L416 160" fill="none" stroke="#1f52b0" stroke-width=".5"/><path d="M360.5 137L373.5 131.5L379 119.5L397 116L405.5 122.5L414 120.5L419.5 133.5L416.5 150L420 163L409.5 174.5L392 178.5L379 172L368.5 174.5L362 161L364.5 148Z" fill="#0f3a98" stroke="#2f7ad8" stroke-width=".55"/><path d="M360.5 137L373.5 131.5L378 146L384.5 159L376 165L368.5 174.5L362 161L364.5 148Z" fill="#12607e" opacity=".95"/><path d="M379 119.5L384 140L378 146M384 140L399 138L405.5 122.5M399 138L401 155L384.5 159M401 155L416.5 150M401 155L405 167L392 178.5M405 167L420 163" fill="none" stroke="#3f8ae0" stroke-width=".55"/><path d="M386 126L394 130L396 137M388 146L396 148L398 154M404 130L412 134L414 144M404 158L412 158M386 164L394 168M366 140L372 146L370 156L366 162M390 118L391 128" fill="none" stroke="#2a62c0" stroke-width=".4"/><rect x="387.1" y="128.9" width="2.8" height="3" fill="#e8eef8" opacity=".9"/><rect x="387.1" y="128.9" width="2.8" height="1.2" fill="#1a1a20"/><rect x="364.6" y="145.9" width="2.8" height="3" fill="#e8eef8" opacity=".9"/><rect x="364.6" y="145.9" width="2.8" height="1.2" fill="#1a1a20"/><rect x="409.1" y="149.9" width="2.8" height="3" fill="#e8eef8" opacity=".9"/><rect x="409.1" y="149.9" width="2.8" height="1.2" fill="#1a1a20"/><rect x="392.6" y="161.4" width="2.8" height="3" fill="#e8eef8" opacity=".9"/><rect x="392.6" y="161.4" width="2.8" height="1.2" fill="#1a1a20"/><rect x="398.6" y="141.4" width="2.8" height="3" fill="#e8eef8" opacity=".9"/><rect x="398.6" y="141.4" width="2.8" height="1.2" fill="#1a1a20"/><circle cx="391" cy="155" r="1.1" fill="#58d05a"/><circle cx="365.4" cy="171.8" r="1" fill="#59c8f0"/><circle cx="378.5" cy="146" r=".7" fill="#58d05a"/><circle cx="400" cy="154" r=".7" fill="#58d05a"/><circle cx="384" cy="140" r=".6" fill="#58d05a"/><circle cx="405" cy="167" r=".6" fill="#58d05a"/><rect x="398" y="138.6" width="7.4" height="10" fill="#0a1838" opacity=".8"/><path d="M399 140.5h5M399 142.5h5M399 144.5h4M399 146.5h5" stroke="#9fb6e0" stroke-width=".45"/><circle cx="407.5" cy="141.5" r=".6" fill="#e04060"/><rect x="355.6" y="122.6" width="4.4" height="21" fill="#137a9c" opacity=".8"/><path d="M356.6 126h2.4M356.6 130h2.4M356.6 134h2.4M356.6 138h2.4" stroke="#7fd6ee" stroke-width=".8"/><path d="M356 124.4L357.8 122.8L359.6 124.4Z" fill="#7fd6ee"/><rect x="378" y="114.4" width="22" height="3.4" fill="#12306e"/><rect x="383" y="115.3" width="12" height="1.3" fill="#cfe0ff"/><rect x="331" y="115.2" width="13" height="1.1" fill="#d9a13a"/><rect x="424" y="115" width="12" height="1.8" rx=".8" fill="#12306e"/><rect x="438.5" y="115.2" width="9" height="1.2" fill="#8fa8d8"/><rect x="374.6" y="179" width="28" height="5" fill="#12306e" stroke="#2a5cb0" stroke-width=".4"/><rect x="330.6" y="120" width="24.2" height="18.6" fill="#071a52" stroke="#1f52b0" stroke-width=".4"/><rect x="339" y="120.7" width="7" height="1" fill="#bcd0f5"/><rect x="330.6" y="140.4" width="24.2" height="20.6" fill="#071a52" stroke="#1f52b0" stroke-width=".4"/><rect x="339" y="141.1" width="7" height="1" fill="#bcd0f5"/><rect x="330.6" y="163" width="24.2" height="20.6" fill="#071a52" stroke="#1f52b0" stroke-width=".4"/><rect x="339" y="163.7" width="7" height="1" fill="#bcd0f5"/><rect x="342.8" y="124" width="10" height="2.2" fill="#3ab0e8"/><rect x="342.8" y="127.2" width="8.7" height="2.2" fill="#3ac040"/><rect x="342.8" y="130.4" width="7.4" height="2.2" fill="#e8a030"/><rect x="342.8" y="133.6" width="6.1" height="2.2" fill="#e86030"/><rect x="332" y="125" width="6" height="1" fill="#e0a040"/><rect x="332" y="127.4" width="8" height=".8" fill="#8fa8d8"/><rect x="332" y="130.4" width="5" height="1" fill="#e0a040"/><rect x="332" y="133" width="7" height=".8" fill="#8fa8d8"/><rect x="332.8" y="149.4" width="1.1" height="10" fill="#c9e6f5"/><rect x="334.7" y="152.4" width="1.1" height="7" fill="#c9e6f5"/><rect x="336.6" y="147.4" width="1.1" height="12" fill="#c9e6f5"/><rect x="338.5" y="150.4" width="1.1" height="9" fill="#c9e6f5"/><rect x="340.4" y="146.4" width="1.1" height="13" fill="#c9e6f5"/><rect x="342.3" y="151.4" width="1.1" height="8" fill="#c9e6f5"/><rect x="344.2" y="148.4" width="1.1" height="11" fill="#c9e6f5"/><rect x="346.1" y="146.9" width="1.1" height="12.5" fill="#c9e6f5"/><rect x="348" y="149.9" width="1.1" height="9.5" fill="#c9e6f5"/><rect x="349.9" y="151.9" width="1.1" height="7.5" fill="#c9e6f5"/><rect x="351.8" y="153.4" width="1.1" height="6" fill="#c9e6f5"/><rect x="332" y="167.6" width="9.5" height="1.1" fill="#a9bfe8"/><rect x="344" y="167.6" width="4.5" height="1.1" fill="#6f8fcc"/><rect x="350.5" y="167.4" width="2.4" height="1.5" fill="#4aa3f0"/><rect x="332" y="170.6" width="9.5" height="1.1" fill="#a9bfe8"/><rect x="344" y="170.6" width="4.5" height="1.1" fill="#6f8fcc"/><rect x="350.5" y="170.4" width="2.4" height="1.5" fill="#4aa3f0"/><rect x="332" y="173.6" width="9.5" height="1.1" fill="#a9bfe8"/><rect x="344" y="173.6" width="4.5" height="1.1" fill="#6f8fcc"/><rect x="350.5" y="173.4" width="2.4" height="1.5" fill="#4aa3f0"/><rect x="332" y="176.6" width="9.5" height="1.1" fill="#a9bfe8"/><rect x="344" y="176.6" width="4.5" height="1.1" fill="#6f8fcc"/><rect x="350.5" y="176.4" width="2.4" height="1.5" fill="#4aa3f0"/><rect x="332" y="179.6" width="9.5" height="1.1" fill="#a9bfe8"/><rect x="344" y="179.6" width="4.5" height="1.1" fill="#6f8fcc"/><rect x="350.5" y="179.4" width="2.4" height="1.5" fill="#4aa3f0"/><rect x="422" y="120" width="26.4" height="20" fill="#071a52" stroke="#1f52b0" stroke-width=".4"/><rect x="432" y="120.7" width="6" height="1" fill="#bcd0f5"/><rect x="422" y="142" width="26.4" height="22" fill="#071a52" stroke="#1f52b0" stroke-width=".4"/><rect x="432" y="142.7" width="6" height="1" fill="#bcd0f5"/><rect x="422" y="166" width="26.4" height="17.6" fill="#071a52" stroke="#1f52b0" stroke-width=".4"/><rect x="432" y="166.7" width="6" height="1" fill="#bcd0f5"/><circle cx="425" cy="125.5" r="1.1" fill="#9fe0f0"/><rect x="427" y="124.2" width="5" height="1" fill="#cfe0ff"/><rect x="427" y="125.9" width="6" height="1.1" fill="#e8b040"/><circle cx="437.5" cy="125.5" r="1.1" fill="#9fe0f0"/><rect x="439.5" y="124.2" width="5" height="1" fill="#cfe0ff"/><rect x="439.5" y="125.9" width="6" height="1.1" fill="#e8b040"/><circle cx="425" cy="132.5" r="1.1" fill="#9fe0f0"/><rect x="427" y="131.2" width="5" height="1" fill="#cfe0ff"/><rect x="427" y="132.9" width="6" height="1.1" fill="#e8b040"/><circle cx="437.5" cy="132.5" r="1.1" fill="#9fe0f0"/><rect x="439.5" y="131.2" width="5" height="1" fill="#cfe0ff"/><rect x="439.5" y="132.9" width="6" height="1.1" fill="#e8b040"/><rect x="424" y="146.5" width="6.5" height="1" fill="#a9bfe8"/><rect x="424" y="149.7" width="6.5" height="1" fill="#a9bfe8"/><rect x="424" y="152.9" width="6.5" height="1" fill="#a9bfe8"/><rect x="424" y="156.1" width="6.5" height="1" fill="#a9bfe8"/><rect x="424" y="159.3" width="6.5" height="1" fill="#a9bfe8"/><path d="M436 148L445 160" stroke="#d8e040" stroke-width="1.1"/><path d="M434.5 160L436.5 156.5L438 160Z" fill="#e8eef8"/><circle cx="440" cy="147" r=".8" fill="#e8eef8"/><rect x="424" y="169" width="8" height="1.6" rx=".8" fill="#1f4a9c"/><rect x="436" y="169" width="8" height="1.6" rx=".8" fill="#1f4a9c"/><path d="M425.3 180A4.2 4.2 0 0 1 433.7 180" fill="none" stroke="#e8503a" stroke-width="1.5"/><path d="M425.3 180A4.2 4.2 0 0 1 427.8 176.2" fill="none" stroke="#4fd36a" stroke-width="1.5"/><path d="M427.8 176.2A4.2 4.2 0 0 1 431.3 176.2" fill="none" stroke="#e8d040" stroke-width="1.5"/><circle cx="441.5" cy="178.5" r="3.2" fill="none" stroke="#39c6e8" stroke-width="1"/><path d="M441.5 175.3A3.2 3.2 0 0 1 444.7 178.5" fill="none" stroke="#e8d040" stroke-width="1"/></g>
<rect x="111.5" y="261.8" width="51" height="35.7" rx="1" fill="#212125"/><rect x="111.5" y="261.8" width="51" height="2" fill="#2c2c31"/><rect x="111.5" y="295" width="51" height="2.5" fill="#141417"/><rect x="120.4" y="260.2" width="1.8" height="1.7" fill="#e0463a"/><rect x="124.3" y="260.2" width="1.8" height="1.7" fill="#e0463a"/><rect x="128.3" y="260.2" width="1.8" height="1.7" fill="#e0463a"/><rect x="132.3" y="260.2" width="1.8" height="1.7" fill="#e0463a"/><circle cx="114.2" cy="266.5" r=".8" fill="#3a3a40"/><circle cx="159.8" cy="266.5" r=".8" fill="#3a3a40"/><circle cx="114.2" cy="291.5" r=".8" fill="#3a3a40"/><circle cx="159.8" cy="291.5" r=".8" fill="#3a3a40"/><rect x="118" y="274.2" width="37.6" height="11" rx=".8" fill="#28282c" stroke="#35353a" stroke-width=".4"/><rect x="120.6" y="275.7" width="19" height=".6" fill="#9a822e"/><rect x="120.6" y="277.2" width="18.5" height="2.1" fill="#b8982e"/><path d="M121 278.25h18" stroke="#2b2b30" stroke-width=".5" stroke-dasharray="1.6 .5"/><rect x="139.8" y="278.4" width="5" height=".8" fill="#b0b0b0"/><rect x="120.6" y="281.4" width="19" height="2.4" fill="none" stroke="#77777c" stroke-width=".4"/><path d="M121.5 282.6h17" stroke="#8a8a90" stroke-width=".7" stroke-dasharray="1.5 .8"/><rect x="150.4" y="274.9" width="2.4" height="2.4" fill="#a88a2a"/><rect x="150.5" y="281.5" width="2.3" height="2.3" fill="#dcdcdc"/><path d="M143 282.8h5.5" stroke="#77777c" stroke-width=".5"/><rect x="155.8" y="297.2" width="2.5" height=".9" fill="#2f8f3f"/>
<rect x="322.3" y="274" width="47" height="28.8" rx="1.2" fill="#17171a"/><rect x="323.5" y="275" width="44.6" height="15.6" fill="#222226"/><circle cx="323.8" cy="278" r=".7" fill="#d8d8d8"/><circle cx="367.8" cy="278" r=".7" fill="#d8d8d8"/><circle cx="323.8" cy="298" r=".7" fill="#d8d8d8"/><circle cx="367.8" cy="298" r=".7" fill="#d8d8d8"/><rect x="332" y="276.8" width="19.8" height="11.2" fill="#74797f"/><rect x="333" y="277.6" width="17.8" height="9.6" fill="#878c94"/><path d="M335 289.3h3M341 289.3h3M347 289.3h3" stroke="#d8d8d8" stroke-width=".5"/><rect x="355.6" y="277" width="4" height="1.2" fill="#c9a93a"/><rect x="354.6" y="279.8" width="6.5" height=".8" fill="#a88a2a"/><rect x="355" y="283.6" width=".8" height="3" fill="#c9a93a"/><rect x="355.8" y="287.5" width="2" height="2" fill="#d8d8d8"/><circle cx="361.6" cy="288.8" r="1.3" fill="#a88a2a"/><circle cx="368" cy="279.8" r="1.1" fill="#e0463a"/><circle cx="368" cy="285.6" r="1.1" fill="#e0463a"/><rect x="325" y="292" width="35" height="9.4" fill="#4fae55"/><rect x="325" y="292" width="35" height="2.2" fill="#6cc870"/><path d="M327 295.6h31M327 298.7h31" stroke="#2d7a36" stroke-width="1.3" stroke-dasharray="1.1 .7"/><rect x="355.4" y="296.6" width="3" height="2.6" fill="#1a1a1a"/><circle cx="326.2" cy="296.6" r=".7" fill="#e8d040"/><circle cx="358.8" cy="294.3" r=".7" fill="#e8d040"/>
<rect x="448.4" y="274" width="41.4" height="30.4" rx="1.2" fill="#17171a"/><path d="M448.4 281.5l1.6 -1v-3l-1.6 -1ZM489.8 281.5l-1.6 -1v-3l1.6 -1ZM448.4 300l1.6 -1v-3l-1.6 -1ZM489.8 300l-1.6 -1v-3l1.6 -1Z" fill="#3c3c42"/><circle cx="450" cy="279" r=".7" fill="#e8e8e8"/><circle cx="488.2" cy="279" r=".7" fill="#e8e8e8"/><circle cx="450" cy="297.5" r=".7" fill="#e8e8e8"/><circle cx="488.2" cy="297.5" r=".7" fill="#e8e8e8"/><rect x="453.8" y="276.8" width="30.4" height="9.6" rx=".6" fill="#dba91f"/><rect x="453.8" y="276.8" width="30.4" height="1.6" fill="#e9bd3a"/><rect x="458.5" y="280.3" width="8.5" height="1.8" fill="#3a2e10"/><rect x="468" y="281.2" width="8" height=".7" fill="#5a4818"/><rect x="456.2" y="279.2" width="1.3" height="1.3" fill="#3a2e10"/><rect x="478.4" y="279" width="3.8" height="3.8" fill="#f2e9c8"/><rect x="479.3" y="279.9" width="2" height="2" fill="#5a4818"/><rect x="456" y="284" width="22" height=".7" fill="#b88a18"/><rect x="451.4" y="290.4" width="27.8" height="12.2" fill="#2f9a42"/><rect x="451.4" y="290.4" width="27.8" height="1.6" fill="#3fb555"/><path d="M455.5 294.4h16M455.5 299.4h16" stroke="#176a2a" stroke-width="1.9" stroke-dasharray="1.3 .6"/><circle cx="453.4" cy="292.6" r=".8" fill="#e8d040"/><circle cx="453.4" cy="300.4" r=".8" fill="#e8d040"/><circle cx="474.5" cy="294.2" r=".8" fill="#e8d040"/><rect x="474.8" y="297.6" width="2.8" height="2.6" fill="#101012"/><rect x="480" y="291.6" width="5" height="10.4" rx="1.2" fill="#2e2f33"/><rect x="481.2" y="293.4" width="2.6" height="6.8" rx=".8" fill="#505258"/>
<path d="M577.8 277V270.8A1.6 1.6 0 0 1 579.4 269.2H591.4A1.6 1.6 0 0 1 593 270.8V277" fill="none" stroke="#8d9197" stroke-width="2"/><rect x="573.8" y="274.8" width="23.2" height="28.4" rx="1.2" fill="#54585e"/><rect x="576.2" y="274.8" width="18.4" height="27.6" fill="#70747b"/><rect x="576.2" y="274.8" width="18.4" height="1.4" fill="#8d9197"/><rect x="584" y="280.8" width="2.8" height="2.6" rx=".5" fill="#d7c98a"/><rect x="584.3" y="283.8" width="2.2" height=".7" fill="#c9cdd2"/><path d="M580.5 289.8h10" stroke="#b9bdc2" stroke-width=".5"/><path d="M583 288.8h5" stroke="#b9bdc2" stroke-width=".4"/><rect x="583.6" y="292.4" width="3.8" height="3.8" rx=".8" fill="#a9adb3"/><circle cx="585.5" cy="294.3" r="1.1" fill="#d9dce0"/><path d="M573 305.5L576 302.6H595L598 305.5V317L594.5 321.5H576.5L573 317Z" fill="#7d8188"/><path d="M573 305.5L576 302.6H595L598 305.5V307H573Z" fill="#5f6369"/><rect x="583" y="304.3" width="5" height="1.3" fill="#e6cf3a"/><rect x="581.3" y="308.2" width="8.9" height="4.3" rx=".5" fill="#c9cdd2"/><rect x="582" y="308.9" width="7.5" height="2.9" fill="#b5bac0"/><circle cx="582.2" cy="315.6" r="1" fill="#eceef0"/><circle cx="589" cy="315.6" r="1" fill="#eceef0"/><path d="M578 319.3h15" stroke="#5f6369" stroke-width=".6"/><rect x="572" y="310.7" width="1.8" height="1.6" fill="#e0b93a"/><rect x="597.6" y="310.7" width="1.8" height="1.6" fill="#e0b93a"/><rect x="578.6" y="320.6" width="2.2" height="1.8" fill="#e0b93a"/><rect x="590" y="320.6" width="2.2" height="1.8" fill="#e0b93a"/><rect x="583.6" y="321" width="3.6" height="2.4" fill="#4a4d52"/>
<rect x="590.8" y="395.8" width="4.2" height="6.8" fill="url(#gsil)"/><path d="M590.8 398h4.2M590.8 399.6h4.2M590.8 401.2h4.2" stroke="#777b82" stroke-width=".5"/><rect x="588.4" y="373" width="8.8" height="23" rx="1" fill="url(#gsil)"/><rect x="588.4" y="371.8" width="8.8" height="2.8" rx=".8" fill="#4a4e55"/><rect x="591.4" y="369.8" width="2.8" height="2.6" fill="#2c2f34"/><rect x="589.6" y="379" width="6.4" height="7.5" fill="#bfc4ca" opacity=".8"/><path d="M588.4 377.5h8.8M588.4 388h8.8M588.4 392h8.8" stroke="#777b82" stroke-width=".5"/>
<rect x="552.8" y="214.2" width="1.8" height="3" fill="#3a3e30"/><path d="M551.4 221.4V218.2L552.4 216.6H555.2L556.2 218.2V221.4Z" fill="#4b4f3a"/><rect x="550.6" y="221.2" width="6.6" height="3.6" fill="#c9c9ab"/><rect x="550.6" y="223.4" width="6.6" height="1.4" fill="#8e8f78"/><rect x="550.4" y="224.8" width="7" height="20.6" rx=".8" fill="#25272b"/><rect x="555" y="226" width="2" height="18" fill="#687080" opacity=".85"/><rect x="551.4" y="228" width="2" height="15" fill="#3d4148"/><path d="M550.4 229.5h7M550.4 236h7M550.4 241.5h7" stroke="#111214" stroke-width=".7"/>
<g font-family="&quot;Liberation Sans&quot;, &quot;Noto Sans CJK SC&quot;, sans-serif">
<text x="414.3" y="37" font-size="25.6" fill="#3d3d3d" text-anchor="middle">智慧水务系统方案图</text>
<text x="144.5" y="174.3" font-size="7.5" fill="#717171">LoRa终端</text>
<text x="475.1" y="179.9" font-size="7.5" fill="#717171">NB-IoT终端</text>
<text font-size="8" fill="#f0f0f0" text-anchor="middle"><tspan x="66.5" y="220.2">管</tspan><tspan x="66.5" y="229">网</tspan><tspan x="66.5" y="237.8">测</tspan><tspan x="66.5" y="246.6">压</tspan><tspan x="66.5" y="255.4">点</tspan></text>
<text x="180.9" y="258.3" font-size="7.7" fill="#f0f0f0">消防栓智能监测</text>
<text font-size="8" fill="#f0f0f0" text-anchor="middle"><tspan x="292.8" y="240">自</tspan><tspan x="292.8" y="248.8">来</tspan><tspan x="292.8" y="257.7">水</tspan><tspan x="292.8" y="266.5">公</tspan><tspan x="292.8" y="275.2">司</tspan></text>
<text x="539.7" y="258.8" font-size="7.7" fill="#f0f0f0">水质监测点</text>
<text x="665" y="275.6" font-size="7.8" fill="#f0f0f0">办公楼</text>
<text x="117.2" y="307.06" font-size="7.5" fill="#f0f0f0">F9164-V300</text>
<text x="216.3" y="308.5" font-size="7.7" fill="#f0f0f0">居民小区</text>
<text font-size="8" fill="#f0f0f0" text-anchor="middle"><tspan x="22.8" y="322.8">取</tspan><tspan x="22.8" y="331.9">水</tspan><tspan x="22.8" y="341">泵</tspan><tspan x="22.8" y="350.2">站</tspan></text>
<text x="334.9" y="310.76" font-size="7.3" fill="#f0f0f0">F9164</text>
<text x="384.2" y="312.2" font-size="7.7" fill="#f0f0f0">直供井</text>
<text x="453" y="313.76" font-size="7.5" fill="#f0f0f0">F9164-N</text>
<text x="323.1" y="334.9" font-size="7.7" fill="#f0f0f0">二次供水加压站</text>
<text x="496" y="351.8" font-size="7.7" fill="#f0f0f0">中途加压站</text>
<text x="583.6" y="342.8" font-size="7.65" fill="#f0f0f0">管网智能监测终端</text>
<text x="660" y="343.4" font-size="7.7" fill="#f0f0f0">大用户水表</text>
<text x="718" y="343.1" font-size="7.5" fill="#f0f0f0">工厂</text>
<text x="598" y="372.7" font-size="7.7" fill="#f0f0f0">管网测压点</text>
<text x="659.3" y="391.8" font-size="7.67" fill="#f6ead6">城市排水管网流量监测</text>
<text font-size="10.8" fill="#ffffff" text-anchor="middle"><tspan x="119.4" y="391.3">水</tspan><tspan x="119.4" y="404.1">源</tspan><tspan x="119.4" y="417">井</tspan></text>
</g>
</svg>
</body></html>
